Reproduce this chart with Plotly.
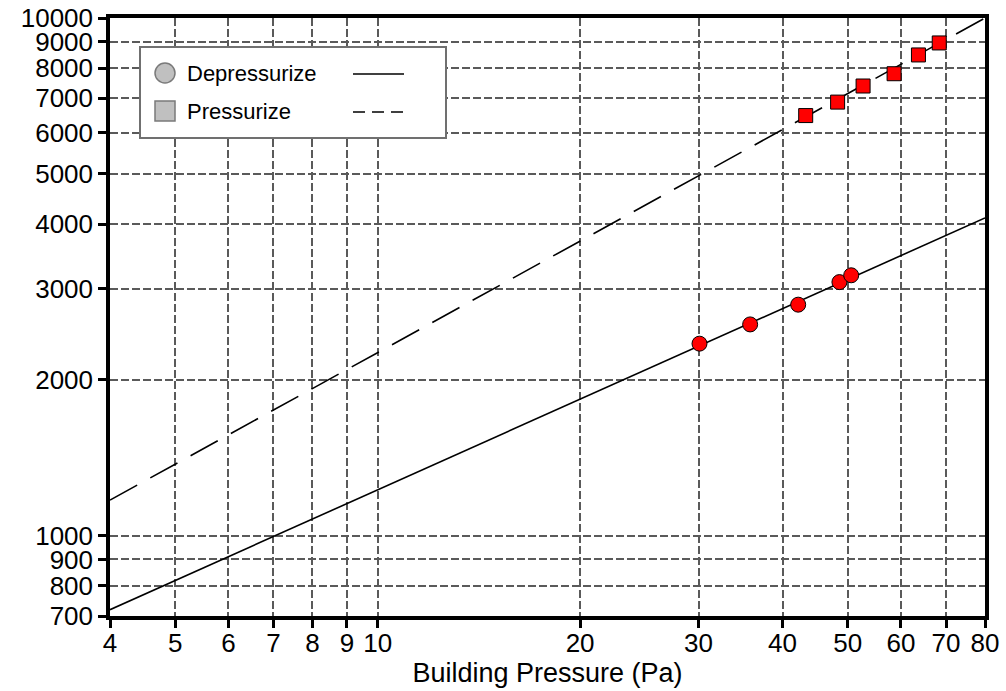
import plotly.graph_objects as go
import math

# ---- data ----
x_ticks = [4, 5, 6, 7, 8, 9, 10, 20, 30, 40, 50, 60, 70, 80]
y_ticks = [700, 800, 900, 1000, 2000, 3000, 4000, 5000, 6000, 7000, 8000, 9000, 10000]

depress_x = [30.1, 35.8, 42.2, 48.6, 50.6]
depress_y = [2350, 2560, 2795, 3090, 3185]
press_x = [43.3, 48.3, 52.7, 58.6, 63.7, 68.4]
press_y = [6480, 6880, 7390, 7805, 8485, 8950]

fit_x = [4, 80]
depress_fit_y = [720, 4110]
press_fit_y = [1172, 10000]

legend_names = ["Depressurize", "Pressurize"]

# ---- layout geometry ----
L, T, W, H = 110, 18, 875, 598
FIG_W, FIG_H = 1006, 691


def px(x):
    return (x - L) / W


def py(y):
    return (T + H - y) / H


FONT = "Liberation Sans, Arial, sans-serif"

fig = go.Figure()

fig.add_trace(go.Scatter(x=fit_x, y=depress_fit_y, mode="lines",
                         line=dict(color="black", width=1.6), showlegend=False))
fig.add_trace(go.Scatter(x=fit_x, y=press_fit_y, mode="lines",
                         line=dict(color="black", width=1.6, dash="31px,15px"), showlegend=False))
fig.add_trace(go.Scatter(x=depress_x, y=depress_y, mode="markers",
                         marker=dict(symbol="circle", size=15, color="#ff0000",
                                     line=dict(color="black", width=1)),
                         showlegend=False))
fig.add_trace(go.Scatter(x=press_x, y=press_y, mode="markers",
                         marker=dict(symbol="square", size=14, color="#ff0000",
                                     line=dict(color="black", width=1)),
                         showlegend=False))

grid_common = dict(showgrid=True, gridcolor="#5a5a5a", gridwidth=2, griddash="8px,3px",
                   showline=True, linecolor="black", linewidth=3.5, mirror=True,
                   ticks="outside", ticklen=8, tickwidth=3, tickcolor="black",
                   zeroline=False, automargin=False,
                   tickfont=dict(family=FONT, size=26, color="black"))

fig.update_xaxes(type="log", range=[math.log10(4), math.log10(80)],
                 tickvals=x_ticks, ticktext=[str(v) for v in x_ticks],
                 ticklabelstandoff=-7,
                 title=dict(text="Building Pressure (Pa)", standoff=4,
                            font=dict(family=FONT, size=27, color="black")),
                 **grid_common)
fig.update_yaxes(type="log", range=[math.log10(700), 4],
                 tickvals=y_ticks, ticktext=[str(v) for v in y_ticks],
                 **grid_common)

# ---- hand-drawn legend ----
shapes = [
    dict(type="rect", xref="paper", yref="paper", x0=px(140), x1=px(446), y0=py(138), y1=py(47),
         line=dict(color="#707070", width=2), fillcolor="white", layer="above"),
    dict(type="circle", xref="paper", yref="paper", x0=px(155), x1=px(175), y0=py(83), y1=py(63),
         line=dict(color="#7a7a7a", width=1.5), fillcolor="#c0c0c0", layer="above"),
    dict(type="rect", xref="paper", yref="paper", x0=px(155), x1=px(175), y0=py(121), y1=py(101),
         line=dict(color="#7a7a7a", width=1.5), fillcolor="#c0c0c0", layer="above"),
    dict(type="line", xref="paper", yref="paper", x0=px(353), x1=px(404), y0=py(74), y1=py(74),
         line=dict(color="black", width=1.5), layer="above"),
    dict(type="line", xref="paper", yref="paper", x0=px(353), x1=px(404), y0=py(112), y1=py(112),
         line=dict(color="black", width=1.5, dash="12px,7px"), layer="above"),
]
annotations = [
    dict(xref="paper", yref="paper", x=px(185), y=py(73), text=legend_names[0], showarrow=False,
         xanchor="left", yanchor="middle", font=dict(family=FONT, size=22, color="black")),
    dict(xref="paper", yref="paper", x=px(185), y=py(111), text=legend_names[1], showarrow=False,
         xanchor="left", yanchor="middle", font=dict(family=FONT, size=22, color="black")),
]

fig.update_layout(width=FIG_W, height=FIG_H,
                  margin=dict(l=L, r=FIG_W - L - W, t=T, b=FIG_H - T - H),
                  paper_bgcolor="white", plot_bgcolor="white",
                  shapes=shapes, annotations=annotations, showlegend=False)

fig.write_html("out.html", config={"displayModeBar": False})

# remove the default page margin so the figure sits at the window's top-left corner
with open("out.html", "r", encoding="utf-8") as f:
    html = f.read()
html = html.replace("<head>", "<head><style>html,body{margin:0;padding:0;overflow:hidden;}</style>", 1)
with open("out.html", "w", encoding="utf-8") as f:
    f.write(html)
